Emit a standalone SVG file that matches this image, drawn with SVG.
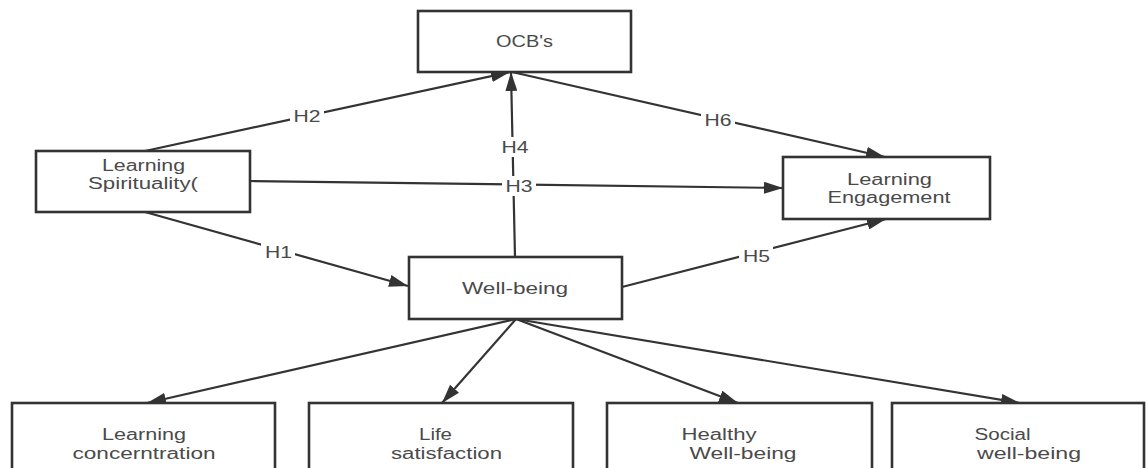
<svg xmlns="http://www.w3.org/2000/svg" width="1148" height="468" viewBox="0 0 1148 468">
<style>
.box{fill:#fff;stroke:#333;stroke-width:2.6}
.t{font-family:"Liberation Sans","Open Sans",sans-serif;font-size:16px;fill:#4a4a4a;text-anchor:middle}
.ln{stroke:#333;stroke-width:2.2;fill:none;marker-end:url(#ah)}
.lb{fill:#fff}
</style>
<defs>
<marker id="ah" markerUnits="userSpaceOnUse" markerWidth="20" markerHeight="12" refX="19" refY="6" orient="auto">
<path d="M0,0 L19,6 L0,12 z" fill="#333"/>
</marker>
</defs>
<rect width="1148" height="468" fill="#fff"/>
<g id="connectors">
<path class="ln" d="M145,151 L510,72"/>
<path class="ln" d="M515,257 L511,72"/>
<path class="ln" d="M512,72 L885,157"/>
<path class="ln" d="M250,181 L783,188"/>
<path class="ln" d="M145,212 L408,286"/>
<path class="ln" d="M622,287 L886,219"/>
<path class="ln" d="M516,319 L147,403"/>
<path class="ln" d="M516,319 L442,403"/>
<path class="ln" d="M516,319 L738,403"/>
<path class="ln" d="M516,319 L1020,403"/>
<rect class="lb" x="290" y="106" width="34" height="20"/>
<text class="t" x="307" y="122" textLength="27" lengthAdjust="spacingAndGlyphs">H2</text>
<rect class="lb" x="701" y="110" width="34" height="20"/>
<text class="t" x="718" y="126" textLength="27" lengthAdjust="spacingAndGlyphs">H6</text>
<rect class="lb" x="498" y="137" width="34" height="20"/>
<text class="t" x="515" y="153" textLength="27" lengthAdjust="spacingAndGlyphs">H4</text>
<rect class="lb" x="502" y="176" width="34" height="20"/>
<text class="t" x="519" y="192" textLength="27" lengthAdjust="spacingAndGlyphs">H3</text>
<rect class="lb" x="261" y="242" width="34" height="20"/>
<text class="t" x="278.5" y="258" textLength="27" lengthAdjust="spacingAndGlyphs">H1</text>
<rect class="lb" x="739" y="245" width="34" height="20"/>
<text class="t" x="756.5" y="261.5" textLength="27" lengthAdjust="spacingAndGlyphs">H5</text>
</g>
<g id="ocb">
<rect class="box" x="418" y="11" width="213" height="61"/>
<text class="t" x="524.5" y="47" textLength="57" lengthAdjust="spacingAndGlyphs">OCB's</text>
</g>
<g id="learning-spirituality">
<rect class="box" x="36" y="151" width="214" height="61"/>
<text class="t" x="143.5" y="170.5" textLength="83" lengthAdjust="spacingAndGlyphs">Learning</text>
<text class="t" x="143" y="189" textLength="110" lengthAdjust="spacingAndGlyphs">Spirituality(</text>
</g>
<g id="learning-engagement">
<rect class="box" x="783" y="157" width="207" height="62"/>
<text class="t" x="889.5" y="185" textLength="85" lengthAdjust="spacingAndGlyphs">Learning</text>
<text class="t" x="889" y="203" textLength="123" lengthAdjust="spacingAndGlyphs">Engagement</text>
</g>
<g id="well-being">
<rect class="box" x="409" y="257" width="213" height="62"/>
<text class="t" x="515" y="294" textLength="106" lengthAdjust="spacingAndGlyphs">Well-being</text>
</g>
<g id="learning-concentration">
<rect class="box" x="12" y="403" width="263" height="80"/>
<text class="t" x="144" y="439.5" textLength="84" lengthAdjust="spacingAndGlyphs">Learning</text>
<text class="t" x="144" y="459" textLength="143" lengthAdjust="spacingAndGlyphs">concerntration</text>
</g>
<g id="life-satisfaction">
<rect class="box" x="309" y="403" width="264" height="80"/>
<text class="t" x="435.5" y="439.5" textLength="33" lengthAdjust="spacingAndGlyphs">Life</text>
<text class="t" x="446.5" y="459" textLength="111" lengthAdjust="spacingAndGlyphs">satisfaction</text>
</g>
<g id="healthy-well-being">
<rect class="box" x="607" y="403" width="265" height="80"/>
<text class="t" x="719" y="439.5" textLength="75" lengthAdjust="spacingAndGlyphs">Healthy</text>
<text class="t" x="743" y="459" textLength="107" lengthAdjust="spacingAndGlyphs">Well-being</text>
</g>
<g id="social-well-being">
<rect class="box" x="892" y="403" width="252" height="80"/>
<text class="t" x="1002.5" y="439.5" textLength="56" lengthAdjust="spacingAndGlyphs">Social</text>
<text class="t" x="1029" y="459" textLength="104" lengthAdjust="spacingAndGlyphs">well-being</text>
</g>
</svg>
